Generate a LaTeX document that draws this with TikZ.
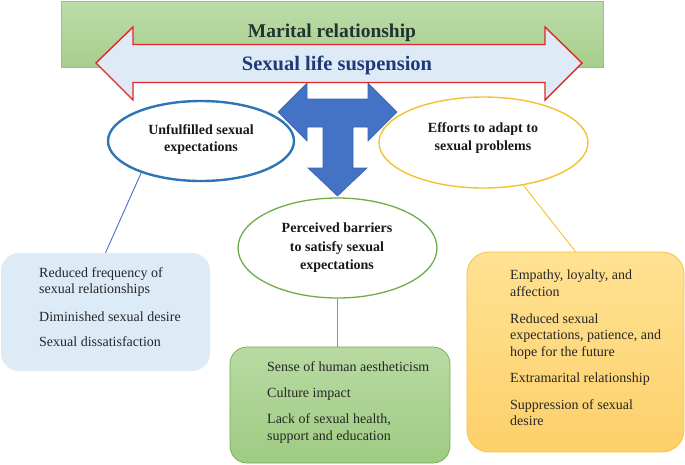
\documentclass[tikz,border=0pt]{standalone}
\usepackage{fontspec}
\setmainfont{Liberation Serif}
\usetikzlibrary{shapes.geometric}
\definecolor{topgreenA}{HTML}{BCDCA9}
\definecolor{topgreenB}{HTML}{A6CE8C}
\definecolor{topgreenLine}{HTML}{98C27E}
\definecolor{arrowfill}{HTML}{DEEBF7}
\definecolor{arrowred}{HTML}{E3262A}
\definecolor{tblue}{HTML}{4472C4}
\definecolor{tblueLine}{HTML}{3A64B0}
\definecolor{ellblue}{HTML}{2E75B6}
\definecolor{ellyellow}{HTML}{F2C230}
\definecolor{ellgreen}{HTML}{70AD47}
\definecolor{boxblue}{HTML}{DDEBF7}
\definecolor{gboxA}{HTML}{B8DAA2}
\definecolor{gboxB}{HTML}{9FCB83}
\definecolor{oboxA}{HTML}{FFE293}
\definecolor{oboxB}{HTML}{FDD06A}
\definecolor{oboxLine}{HTML}{F7C23C}
\definecolor{navytext}{HTML}{1F3A78}
\definecolor{titletext}{HTML}{243232}
\definecolor{bodytext}{HTML}{262626}
\tikzset{
  ellnode/.style={ellipse, inner sep=0pt, fill=white},
  elltext/.style={anchor=base, font=\fontsize{14}{16}\selectfont\bfseries, text=black!90},
  bodyline/.style={anchor=base west, font=\fontsize{14}{16}\selectfont, text=bodytext, inner sep=0pt},
  connector/.style={line width=0.9pt}
}
\begin{document}
\begin{tikzpicture}[x=1pt,y=-1pt]
\useasboundingbox (0,0) rectangle (685,464);

% top green rectangle
\node[draw=topgreenLine, line width=0.6pt, top color=topgreenA, bottom color=topgreenB,
      minimum width=542pt, minimum height=66pt, inner sep=0pt] (mr) at (332,34) {};
\node[anchor=base, font=\fontsize{19.5}{22}\selectfont\bfseries, text=titletext] (mrt) at (332,37) {Marital relationship};

% ellipses
\node[ellnode, draw=ellblue, line width=2.4pt, minimum width=186pt, minimum height=80pt] (ue) at (201,141) {};
\node[ellnode, draw=ellyellow, line width=1.4pt, minimum width=209pt, minimum height=91pt] (re) at (483.5,142.5) {};
\node[ellnode, draw=ellgreen, line width=1.3pt, minimum width=199pt, minimum height=100pt] (ge) at (337.5,248) {};

% T-shaped arrow
\draw[fill=tblue, draw=tblueLine, line width=0.6pt, line join=miter]
  (278,112) -- (307,83) -- (307,99) -- (368,99) -- (368,83) -- (397,112) -- (368,141)
  -- (368,127) -- (353,127) -- (353,168) -- (367,168) -- (337.5,196) -- (308,168)
  -- (323,168) -- (323,127) -- (307,127) -- (307,141) -- cycle;

% double arrow
\draw[fill=arrowfill, draw=arrowred, line width=1.4pt, line join=miter]
  (96,63) -- (133,27) -- (133,44.5) -- (545,44.5) -- (545,27) -- (582,63)
  -- (545,100) -- (545,82.5) -- (133,82.5) -- (133,100) -- cycle;
\node[anchor=base, font=\fontsize{20.5}{24}\selectfont\bfseries, text=navytext] (slt) at (337,70) {Sexual life suspension};

% ellipse texts
\node[elltext] (ue1) at (201,134.5) {Unfulfilled sexual};
\node[elltext] (ue2) at (201,151.5) {expectations};
\node[elltext] (re1) at (483,132.5) {Efforts to adapt to};
\node[elltext] (re2) at (483,150.5) {sexual problems};
\node[elltext] (ge1) at (337,232.5) {Perceived barriers};
\node[elltext] (ge2) at (337,251) {to satisfy sexual};
\node[elltext] (ge3) at (337,269.5) {expectations};

% boxes
\node[fill=boxblue, rounded corners=18pt, minimum width=209pt, minimum height=118pt, inner sep=0pt] (bbox) at (105.5,312) {};
\node[draw=ellgreen, line width=0.7pt, top color=gboxA, bottom color=gboxB, rounded corners=17pt,
      minimum width=220pt, minimum height=116pt, inner sep=0pt] (gbox) at (340,405) {};
\node[draw=oboxLine, line width=0.8pt, top color=oboxA, bottom color=oboxB, rounded corners=22pt,
      minimum width=217pt, minimum height=200pt, inner sep=0pt] (obox) at (575.5,352) {};

% connectors
\draw[connector, draw=tblue] (ue.208) -- (bbox.north);
\draw[connector, draw=ellyellow] (re.313) -- (obox.north);
\draw[connector, draw=ellgreen, line width=1.2pt] (ge.south) -- (ge.south |- gbox.north);

% blue box text
\node[bodyline] (b1) at (39,277.5) {Reduced frequency of};
\node[bodyline] (b2) at (39,293.5) {sexual relationships};
\node[bodyline] (b3) at (39,321.5) {Diminished sexual desire};
\node[bodyline] (b4) at (39,346.5) {Sexual dissatisfaction};

% green box text
\node[bodyline] (g1) at (267,371.5) {Sense of human aestheticism};
\node[bodyline] (g2) at (267,397.5) {Culture impact};
\node[bodyline] (g3) at (267,423.5) {Lack of sexual health,};
\node[bodyline] (g4) at (267,440) {support and education};

% orange box text
\node[bodyline] (o1) at (510,279.5) {Empathy, loyalty, and};
\node[bodyline] (o2) at (510,296) {affection};
\node[bodyline] (o3) at (510,323) {Reduced sexual};
\node[bodyline] (o4) at (510,339.5) {expectations, patience, and};
\node[bodyline] (o5) at (510,356) {hope for the future};
\node[bodyline] (o6) at (510,382) {Extramarital relationship};
\node[bodyline] (o7) at (510,409) {Suppression of sexual};
\node[bodyline] (o8) at (510,425.5) {desire};
\end{tikzpicture}
\end{document}
